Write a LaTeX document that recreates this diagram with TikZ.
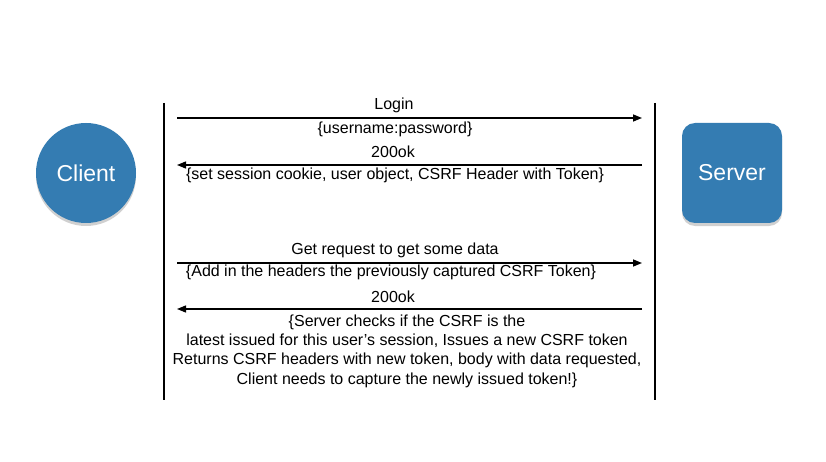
\documentclass[tikz,border=0pt]{standalone}
\usepackage{fontspec}
\setmainfont{Liberation Sans}
\usetikzlibrary{arrows.meta,shadows}
\definecolor{nodeblue}{RGB}{52,124,178}
\tikzset{
  actor/.style={fill=nodeblue, draw=none, text=white, font=\fontsize{23}{26}\selectfont,
    drop shadow={shadow xshift=0pt, shadow yshift=-3pt, opacity=0.3, fill=black!60}},
  msg/.style={line width=1.4pt, -{Triangle[length=9pt,width=7pt]}},
  lifeline/.style={line width=1.4pt},
  lbl/.style={font=\fontsize{16}{19.3}\selectfont, inner sep=0pt, align=center}
}
\begin{document}
\begin{tikzpicture}[x=1pt,y=-1pt]
\useasboundingbox[fill=white] (0,0) rectangle (826,462);
\node[actor, circle, minimum size=100pt] (client) at (86,173) {Client};
\node[actor, rounded corners=13pt, minimum width=100pt, minimum height=100pt] (server) at (732,173) {Server};
% lifelines
\coordinate (cl1) at (164,103); \coordinate (cl2) at (164,400);
\coordinate (sl1) at (655,103); \coordinate (sl2) at (655,400);
\draw[lifeline] (cl1) -- (cl2);
\draw[lifeline] (sl1) -- (sl2);
% message endpoints
\coordinate (a1s) at (177,118); \coordinate (a1e) at (642,118);
\coordinate (a2s) at (642,165); \coordinate (a2e) at (177,165);
\coordinate (a3s) at (177,263); \coordinate (a3e) at (642,263);
\coordinate (a4s) at (642,309); \coordinate (a4e) at (177,309);
\draw[msg] (a1s) -- (a1e);
\draw[msg] (a2s) -- (a2e);
\draw[msg] (a3s) -- (a3e);
\draw[msg] (a4s) -- (a4e);
\node[lbl] (t1) at (394,105) {Login};
\node[lbl] (t2) at (395,129) {\{username:password\}};
\node[lbl] (t3) at (393,152) {200ok};
\node[lbl] (t4) at (395,175) {\{set session cookie, user object, CSRF Header with Token\}};
\node[lbl] (t5) at (395,250) {Get request to get some data};
\node[lbl] (t6) at (391,272) {\{Add in the headers the previously captured CSRF Token\}};
\node[lbl] (t7) at (393,297) {200ok};
\node[lbl] (t8) at (407,351) {\{Server checks if the CSRF is the\\latest issued for this user’s session, Issues a new CSRF token\\Returns CSRF headers with new token, body with data requested,\\Client needs to capture the newly issued token!\}};
\end{tikzpicture}
\end{document}
